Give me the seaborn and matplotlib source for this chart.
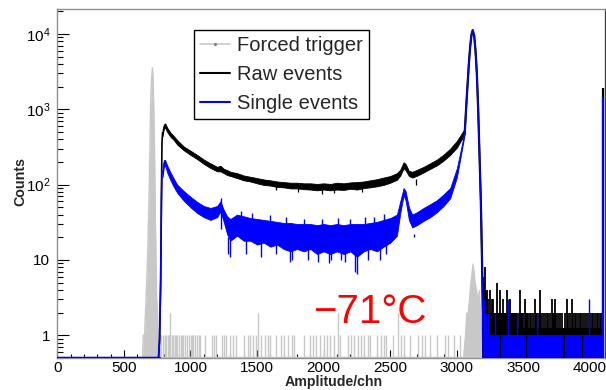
import numpy as np
import matplotlib
matplotlib.use("Agg")
import matplotlib.pyplot as plt
import seaborn as sns
from matplotlib.lines import Line2D
from matplotlib.ticker import MultipleLocator, FixedLocator, NullFormatter

# ---------------- data ----------------
# Forced trigger: main peak (channel, counts)
ft_peak_ch = [640, 645, 655, 662, 671, 680, 688, 695, 701, 708, 714, 720, 726, 730, 736, 742, 746, 752, 760, 770, 778, 781]
ft_peak_cnt = [0, 1, 1, 2, 5, 15, 63, 300, 1300, 2600, 3540, 2400, 700, 290, 38, 8, 3, 2, 1, 1, 1, 0]
# Forced trigger: isolated channels with counts
ft_bar_ch = [795, 805, 812, 818, 830, 836, 842, 848, 860, 866, 872, 885, 893, 900, 912, 930, 938, 945, 958, 975,
             990, 1005, 1012, 1020, 1035, 1050, 1062, 1075, 1110, 1160, 1175, 1190, 1240, 1255, 1270, 1300, 1320,
             1338, 1400, 1430, 1450, 1470, 1490, 1510, 1530, 1560, 1580, 1600, 1640, 1680, 1700, 1730, 1760, 1775,
             1850, 1895, 1920, 1945, 1975, 2000, 2025, 2050, 2080, 2108, 2120, 2185, 2205, 2230, 2255, 2280, 2300,
             2330, 2350, 2400, 2430, 2450, 2470, 2520, 2558, 2580, 2600, 2650, 2710, 2735, 2760, 2800, 2850, 2910,
             2930, 2980, 3020]
ft_bar_cnt = [1, 1, 1, 1, 1, 1, 1, 2, 1, 1, 1, 1, 1, 1, 1, 1, 1, 1, 1, 1,
              1, 1, 1, 1, 1, 1, 1, 1, 1, 1, 1, 1, 1, 1, 1, 1, 1,
              1, 1, 1, 1, 1, 1, 2, 1, 1, 1, 1, 1, 1, 1, 1, 1, 1,
              1, 1, 1, 1, 1, 1, 1, 1, 1, 2, 1, 1, 1, 1, 1, 1, 1,
              1, 1, 1, 1, 1, 1, 1, 2, 1, 1, 1, 1, 1, 1, 1, 1, 1,
              1, 1, 1]
# Forced trigger: small bump under the main peak
ft_bump_ch = [3045, 3060, 3070, 3080, 3090, 3100, 3110, 3118, 3126, 3135, 3145, 3155, 3165, 3175, 3185, 3195]
ft_bump_cnt = [0, 1, 2, 2, 3, 5, 7, 9, 7, 5, 4, 3, 4, 2, 1, 0]

# Raw / single events: rising edge
edge_ch = [0, 760, 768, 776, 782, 786, 790]
raw_edge = [0, 0, 0.9, 5, 80, 350, 490]
single_edge = [0, 0, 0.9, 5, 60, 150, 150]

# Raw / single events: continuum band (low / high of the noisy trace)
body_ch = [790, 800, 810, 825, 850, 875, 900, 950, 1000, 1050, 1100, 1150, 1200, 1225, 1250, 1275, 1300,
           1350, 1400, 1450, 1500, 1550, 1600, 1650, 1700, 1750, 1800, 1850, 1900, 1950, 2000, 2050, 2100,
           2150, 2200, 2250, 2300, 2350, 2400, 2450, 2500, 2550, 2575, 2600, 2615, 2640, 2665, 2700, 2750,
           2800, 2850, 2900, 2950, 3000, 3040, 3060]
raw_lo = [440, 550, 570, 500, 430, 390, 340, 285, 248, 218, 188, 166, 150, 150, 142, 134, 130,
          122, 114, 110, 104, 99, 97, 93, 92, 89, 89, 87, 86, 84, 86, 84, 86,
          85, 88, 86, 90, 92, 95, 99, 106, 116, 132, 165, 155, 130, 124, 131, 145,
          162, 180, 208, 248, 310, 410, 480]
raw_hi = [540, 630, 650, 570, 490, 440, 390, 320, 282, 248, 215, 192, 172, 178, 162, 156, 148,
          142, 132, 127, 122, 117, 114, 110, 108, 106, 106, 104, 104, 102, 104, 102, 106,
          104, 107, 108, 110, 114, 118, 124, 130, 142, 158, 198, 188, 152, 148, 157, 172,
          192, 215, 250, 300, 380, 490, 560]
single_lo = [125, 172, 178, 145, 114, 93, 78, 61, 50, 42, 37, 34, 37, 44, 32, 22, 18,
             21, 18, 18, 16, 17, 15, 16, 14, 13, 14, 13, 14, 12, 13, 12, 13,
             12, 13, 11, 13, 14, 13, 15, 17, 21, 42, 72, 62, 34, 27, 29, 33,
             37, 43, 52, 66, 125, 305, 480]
single_hi = [175, 212, 212, 180, 145, 120, 100, 82, 69, 59, 52, 49, 52, 60, 46, 38, 35,
             40, 38, 36, 35, 34, 33, 32, 31, 31, 30, 30, 30, 29, 30, 29, 30,
             29, 30, 30, 30, 31, 32, 34, 36, 40, 60, 90, 82, 50, 40, 43, 49,
             55, 62, 74, 90, 165, 355, 560]
# Single events: deepest downward / upward excursions of the noisy trace
single_dip_ch = [1280, 1295, 1420, 1530, 1640, 1745, 1760, 1880, 1960, 2040, 2055, 2130, 2160, 2238, 2250,
                 2330, 2420, 2470, 2680, 2700]
single_dip_cnt = [12, 11, 12, 11, 12, 9.5, 10, 10, 9.5, 9, 10, 10, 9.5, 7, 6.5, 10, 10, 12, 22, 20]
single_peak_ch = [1230, 1380, 1460, 1600, 1720, 1850, 1990, 2110, 2200, 2310, 2380, 2450]
single_peak_cnt = [66, 45, 42, 39, 37, 35, 35, 36, 35, 37, 37, 41]
raw_dip_ch = [1640, 1810, 1990, 2080, 2290, 2690]
raw_dip_cnt = [86, 80, 76, 78, 80, 118]

# Main full-energy peak (both traces)
peak_ch = [3060, 3075, 3090, 3100, 3110, 3119, 3130, 3140, 3150, 3160, 3170, 3180, 3188, 3195, 3198]
peak_cnt = [520, 1500, 4000, 6800, 9800, 11200, 9500, 6000, 3000, 1000, 250, 60, 12, 2, 0]

# Tail above the peak: raw-event channels with 2 or more counts
raw_tail_ch = [3200, 3204, 3208, 3212, 3217, 3222, 3229, 3235, 3240, 3249, 3255, 3262, 3268, 3273, 3280,
               3287, 3293, 3299, 3305, 3312, 3318, 3324, 3330, 3337, 3343, 3349, 3356, 3362, 3368, 3374,
               3380, 3387, 3393, 3399, 3406, 3413, 3420, 3428, 3436, 3445, 3455, 3465, 3474, 3482, 3490, 3500,
               3511, 3520, 3528, 3536, 3548, 3560, 3575, 3586, 3595, 3605, 3615, 3624, 3632, 3645, 3660, 3674,
               3685, 3700, 3712, 3720, 3728, 3737, 3748, 3761, 3775, 3790, 3812, 3824, 3835, 3850, 3862, 3875,
               3885, 3895, 3912, 3925, 3935, 3945, 3960, 3975, 3990, 4000, 4012, 4025, 4040, 4050, 4062, 4074, 4085]
raw_tail_cnt = [6, 5, 4, 8, 3, 4, 4, 3, 2, 4, 2, 3, 2, 3, 2,
                2, 2, 5, 2, 2, 2, 4, 2, 2, 2, 3, 2, 2, 2, 4,
                2, 2, 2, 3, 2, 2, 2, 2, 2, 2, 2, 2, 4, 2, 2, 2,
                3, 2, 2, 2, 2, 2, 2, 3, 2, 2, 2, 4, 2, 2, 2, 2,
                2, 2, 3, 2, 2, 3, 2, 2, 2, 2, 2, 3, 2, 2, 3, 2,
                2, 2, 2, 2, 2, 2, 2, 2, 2, 2, 2, 2, 2, 2, 2, 2, 2]
# Tail: single-event channels with 2 or more counts, and empty channels
single_tail_ch = [3202, 3208, 3215, 3222, 3236, 3290, 3384, 3450, 3600, 3992]
single_tail_cnt = [3, 2, 2, 2, 2, 2, 3, 2, 2, 3]
single_zero_ch = [3324, 3518, 3800, 3805, 3937]
tail_range = [3198, 4093]

# Overflow bin at the right edge
over_ch = 4098
over_raw = 1930
over_single = 1470

legend_labels = ["Forced trigger", "Raw events", "Single events"]
temp_label = "\u221271\u00b0C"

# ---------------- style ----------------
sns.set_theme(style="ticks")
plt.rcParams['font.family'] = ['Liberation Sans', 'DejaVu Sans']
plt.rcParams['mathtext.fontset'] = 'custom'
plt.rcParams['mathtext.rm'] = 'Liberation Sans'
plt.rcParams['mathtext.it'] = 'Liberation Sans:italic'
plt.rcParams['mathtext.bf'] = 'Liberation Sans:bold'

GRAY = '#c8c8c8'
BLUE = '#0000ff'
BLACK = '#000000'
FLOOR = 0.5

fig = plt.figure(figsize=(6.06, 3.9), dpi=100)
ax = fig.add_axes([57.3 / 606, 1 - 358 / 390, (604.7 - 57.3) / 606, (358 - 8.7) / 390])
ax.set_yscale('log')
ax.set_xlim(0, 4110)
ax.set_ylim(FLOOR, 2.16e4)

def fl(v):
    return np.maximum(np.asarray(v, dtype=float), FLOOR)

# ---- forced trigger (gray, behind) ----
ax.plot([0, 4110], [FLOOR, FLOOR], color=GRAY, lw=2.5, zorder=1)
ax.fill_between(ft_peak_ch, FLOOR, fl(ft_peak_cnt), color=GRAY, lw=0, zorder=1)
sns.lineplot(x=ft_peak_ch, y=fl(ft_peak_cnt), ax=ax, color=GRAY, lw=1.0,
             estimator=None, sort=False, legend=False, zorder=1)
ax.vlines(ft_bar_ch, FLOOR, ft_bar_cnt, color=GRAY, lw=1.0, zorder=1)
ax.fill_between(ft_bump_ch, FLOOR, fl(ft_bump_cnt), color=GRAY, lw=0.8, edgecolor=GRAY, zorder=1)

# ---- raw events (black) ----
sns.lineplot(x=edge_ch, y=fl(raw_edge), ax=ax, color=BLACK, lw=1.2,
             estimator=None, sort=False, legend=False, zorder=3)
ax.fill_between(body_ch, raw_lo, raw_hi, color=BLACK, lw=0.6, edgecolor=BLACK, zorder=3)
ax.vlines(raw_dip_ch, raw_dip_cnt, 100, color=BLACK, lw=0.9, zorder=3)
sns.lineplot(x=peak_ch, y=fl(peak_cnt), ax=ax, color=BLACK, lw=1.6,
             estimator=None, sort=False, legend=False, zorder=3)
ax.fill_between(tail_range, 1, 1.25, color=BLACK, lw=0, zorder=3)
ax.vlines(raw_tail_ch, 1, raw_tail_cnt, color=BLACK, lw=1.3, zorder=3)
ax.vlines([over_ch], FLOOR, [over_raw], color=BLACK, lw=1.6, zorder=3)

# ---- single events (blue, on top) ----
sns.lineplot(x=edge_ch, y=fl(single_edge), ax=ax, color=BLUE, lw=1.2,
             estimator=None, sort=False, legend=False, zorder=4)
ax.plot([0, 760], [FLOOR, FLOOR], color=BLUE, lw=2.5, zorder=4)
ax.fill_between(body_ch, single_lo, single_hi, color=BLUE, lw=0.6, edgecolor=BLUE, zorder=4)
ax.vlines(single_dip_ch, single_dip_cnt, 20, color=BLUE, lw=1.0, zorder=4)
ax.vlines(single_peak_ch, 26, single_peak_cnt, color=BLUE, lw=1.0, zorder=4)
sns.lineplot(x=peak_ch, y=fl(peak_cnt), ax=ax, color=BLUE, lw=1.2,
             estimator=None, sort=False, legend=False, zorder=4)
ax.fill_between(tail_range, FLOOR, 1, color=BLUE, lw=0, zorder=4)
ax.vlines(single_tail_ch, 1, single_tail_cnt, color=BLUE, lw=1.0, zorder=4)
ax.vlines(single_zero_ch, FLOOR, 1, color=BLACK, lw=0.8, zorder=4.5)
ax.vlines([over_ch], FLOOR, [over_single], color=BLUE, lw=1.6, zorder=4.6)

# ---------------- axes decoration ----------------
for side in ['left', 'top', 'bottom']:
    ax.spines[side].set_color('#909090')
    ax.spines[side].set_linewidth(1.0)
ax.spines['right'].set_color('#404040')
ax.spines['right'].set_linewidth(1.0)

ax.xaxis.set_major_locator(MultipleLocator(500))
ax.xaxis.set_minor_locator(MultipleLocator(100))
ax.yaxis.set_major_locator(FixedLocator([1, 10, 100, 1000, 10000]))
ax.set_yticklabels(['1', '10', '$10^{2}$', '$10^{3}$', '$10^{4}$'])
minor_y = [m * 10 ** e for e in range(-1, 5) for m in range(2, 10)]
ax.yaxis.set_minor_locator(FixedLocator(minor_y))
ax.yaxis.set_minor_formatter(NullFormatter())

ax.tick_params(axis='both', which='both', direction='in', colors=BLACK, labelsize=11)
ax.tick_params(axis='x', which='major', length=6, width=0.8, pad=2.5)
ax.tick_params(axis='x', which='minor', length=3, width=0.8)
ax.tick_params(axis='y', which='major', length=8.5, width=0.8, pad=5)
ax.tick_params(axis='y', which='minor', length=4.3, width=0.8)

fig.text(334 / 606, 1 - 382 / 390, 'Amplitude/chn', ha='center', va='center',
         fontsize=10.2, fontweight='bold')
fig.text(20 / 606, 1 - 182 / 390, 'Counts', ha='center', va='center', rotation=90,
         fontsize=10.3, fontweight='bold')

handles = [Line2D([0], [0], color=GRAY, lw=1.2, marker='.', markersize=2.5, markerfacecolor='#808080',
                  markeredgecolor='#808080'),
           Line2D([0], [0], color=BLACK, lw=1.5),
           Line2D([0], [0], color=BLUE, lw=1.5)]
leg = ax.legend(handles, legend_labels, loc='upper left', bbox_to_anchor=(0.2503, 0.939),
                borderaxespad=0, fontsize=14.5, frameon=True, fancybox=False, shadow=False,
                framealpha=1, edgecolor=BLACK, handlelength=1.45, handletextpad=0.35,
                labelspacing=0.5, borderpad=0.3)
leg.get_frame().set_linewidth(1.0)
leg.set_zorder(10)

ax.text(0.571, 0.0993, temp_label, transform=ax.transAxes, ha='center', va='baseline',
        fontsize=29, color='#ff0000', zorder=11)

fig.savefig('out.png', dpi=100)
